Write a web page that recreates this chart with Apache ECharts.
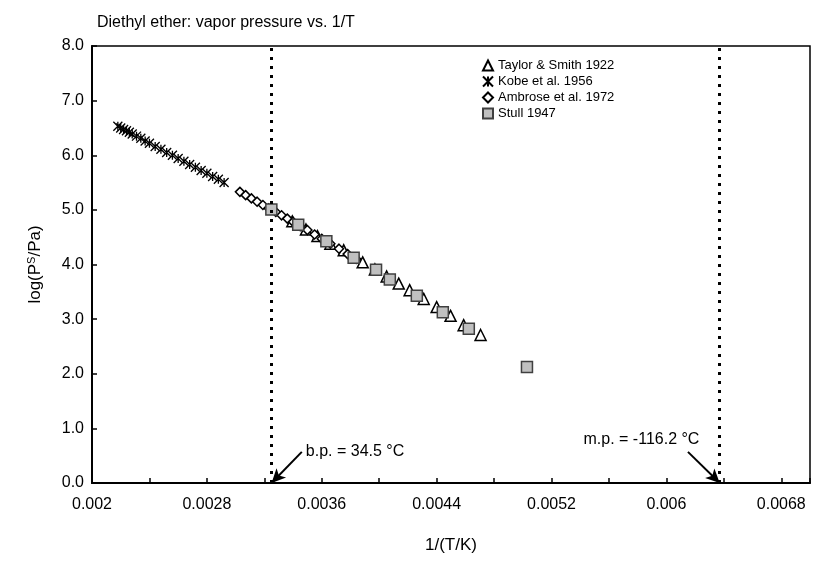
<!DOCTYPE html>
<html>
<head>
<meta charset="utf-8">
<script src="https://cdn.jsdelivr.net/npm/echarts@6/dist/echarts.min.js"></script>
<style>
  html, body { margin: 0; padding: 0; background: #fff; }
  #main { width: 818px; height: 565px; }
</style>
</head>
<body>
<div id="main"></div>
<script>
// values: x = 1/(T/K), y = log10(P/Pa)
var taylorX = [0.003395, 0.00349, 0.00357, 0.00366, 0.003753, 0.003885, 0.00397, 0.004052,
  0.004136, 0.004212, 0.00431, 0.0044, 0.004497, 0.004588, 0.004706];
var taylorY = [4.79, 4.64, 4.52, 4.38, 4.26, 4.04, 3.91, 3.78, 3.65, 3.53, 3.37, 3.22, 3.06, 2.89, 2.71];

var kobeX = [0.00218, 0.0022, 0.00222, 0.00224, 0.00226, 0.00228, 0.00231, 0.00234, 0.00237, 0.0024,
  0.00244, 0.00248, 0.00252, 0.00256, 0.0026, 0.00264, 0.00268, 0.00272, 0.00276, 0.0028,
  0.00284, 0.00288, 0.00292];
var kobeY = [6.53, 6.5, 6.47, 6.45, 6.42, 6.39, 6.35, 6.31, 6.26, 6.22, 6.16, 6.11, 6.05, 6.0,
  5.94, 5.89, 5.83, 5.78, 5.72, 5.67, 5.61, 5.56, 5.5];

var ambroseX = [0.00303, 0.00307, 0.00311, 0.00315, 0.00319, 0.00323, 0.00328, 0.00332, 0.00336,
  0.0034, 0.00345, 0.0035, 0.00355, 0.0036, 0.00366, 0.00372, 0.00378, 0.00384];
var ambroseY = [5.33, 5.27, 5.21, 5.15, 5.09, 5.03, 4.96, 4.9, 4.84, 4.78, 4.7, 4.63, 4.55, 4.47,
  4.38, 4.29, 4.19, 4.1];

var stullX = [0.003249, 0.003436, 0.003632, 0.003822, 0.003978, 0.004074, 0.004262, 0.004443,
  0.004624, 0.005029];
var stullY = [5.006, 4.727, 4.426, 4.125, 3.903, 3.727, 3.426, 3.125, 2.824, 2.125];

// boiling and melting point, 1/(T/K)
var bpX = 1 / 307.65;
var mpX = 1 / 156.95;

function zip(xs, ys) {
  return xs.map(function (x, i) { return [x, ys[i]]; });
}

var font = 'Liberation Sans, Arial, sans-serif';
var myChart = echarts.init(document.getElementById('main'));

var dotted = { type: [3, 6], width: 3, color: '#000' };
var arrowLine = { type: 'solid', width: 2, color: '#000' };

var option = {
  animation: false,
  textStyle: { fontFamily: font, color: '#000' },
  title: {
    text: 'Diethyl ether: vapor pressure vs. 1/T',
    left: 92,
    top: 10,
    textStyle: { fontFamily: font, fontSize: 16, fontWeight: 'normal', color: '#000' }
  },
  legend: {
    orient: 'vertical',
    left: 477,
    top: 54,
    itemWidth: 10,
    itemHeight: 10,
    itemGap: 3,
    itemTextGap: 5,
    textStyle: { fontFamily: font, fontSize: 13, color: '#000' },
    data: ['Taylor & Smith 1922', 'Kobe et al. 1956', 'Ambrose et al. 1972', 'Stull 1947']
  },
  grid: {
    left: 92,
    right: 8,
    top: 46,
    bottom: 82,
    show: true,
    borderColor: '#000',
    borderWidth: 1.5
  },
  xAxis: {
    type: 'value',
    min: 0.002,
    max: 0.007,
    interval: 0.0004,
    name: '1/(T/K)',
    nameLocation: 'middle',
    nameGap: 54,
    nameTextStyle: { fontFamily: font, fontSize: 17, color: '#000' },
    axisLine: { lineStyle: { color: '#000', width: 2 } },
    axisTick: { inside: true, length: 5, lineStyle: { color: '#000', width: 1.5 } },
    axisLabel: {
      margin: 14,
      fontSize: 16,
      color: '#000',
      fontFamily: font,
      formatter: function (v) {
        var k = Math.round(v * 10000);
        return k % 8 === 4 ? String(+v.toFixed(4)) : '';
      }
    },
    splitLine: { show: false }
  },
  yAxis: {
    type: 'value',
    min: 0,
    max: 8,
    interval: 1,
    name: 'log(P{sup|S}/Pa)',
    nameLocation: 'middle',
    nameGap: 47,
    nameTextStyle: {
      fontFamily: font, fontSize: 17, color: '#000',
      rich: { sup: { fontFamily: font, fontSize: 11, verticalAlign: 'bottom', padding: [0, 0, 8, 0] } }
    },
    axisLine: { lineStyle: { color: '#000', width: 2 } },
    axisTick: { inside: true, length: 5, lineStyle: { color: '#000', width: 1.5 } },
    axisLabel: {
      margin: 8,
      fontSize: 16,
      color: '#000',
      fontFamily: font,
      formatter: function (v) { return v.toFixed(1); }
    },
    splitLine: { show: false }
  },
  series: [
    {
      // dotted lines, arrows and their labels
      name: 'marks',
      type: 'scatter',
      data: [],
      silent: true,
      markLine: {
        silent: true,
        symbol: ['none', 'none'],
        label: { show: false },
        data: [
          [
            { coord: [bpX, 0], lineStyle: dotted },
            { coord: [bpX, 8] }
          ],
          [
            { coord: [mpX, 0], lineStyle: dotted },
            { coord: [mpX, 8] }
          ],
          [
            { coord: [0.003461, 0.57], symbol: 'none', lineStyle: arrowLine },
            { coord: [bpX, 0], symbol: 'arrow', symbolSize: [10, 14] }
          ],
          [
            { coord: [0.00615, 0.57], symbol: 'none', lineStyle: arrowLine },
            { coord: [mpX, 0], symbol: 'arrow', symbolSize: [10, 14] }
          ]
        ]
      },
      markPoint: {
        silent: true,
        symbol: 'circle',
        symbolSize: 0,
        data: [
          {
            coord: [0.003475, 0.58],
            label: { show: true, position: 'right', distance: 2, formatter: 'b.p. = 34.5 °C',
              fontFamily: font, fontSize: 16, color: '#000' }
          },
          {
            coord: [0.00623, 0.79],
            label: { show: true, position: 'left', distance: 0, formatter: 'm.p. = -116.2 °C',
              fontFamily: font, fontSize: 16, color: '#000' }
          }
        ]
      }
    },
    {
      name: 'Taylor & Smith 1922',
      type: 'scatter',
      symbol: 'triangle',
      symbolSize: 11,
      itemStyle: { color: '#fff', borderColor: '#000', borderWidth: 1.5, opacity: 1 },
      data: zip(taylorX, taylorY)
    },
    {
      name: 'Kobe et al. 1956',
      type: 'scatter',
      symbol: 'path://M0,0L10,10M10,0L0,10M5,0L5,10',
      symbolSize: 9,
      itemStyle: { color: '#000', borderColor: '#000', borderWidth: 1.3, opacity: 1 },
      data: zip(kobeX, kobeY)
    },
    {
      name: 'Ambrose et al. 1972',
      type: 'scatter',
      symbol: 'diamond',
      symbolSize: 9,
      itemStyle: { color: '#fff', borderColor: '#000', borderWidth: 1.5, opacity: 1 },
      data: zip(ambroseX, ambroseY)
    },
    {
      name: 'Stull 1947',
      type: 'scatter',
      symbol: 'rect',
      symbolSize: 11,
      itemStyle: { color: '#c0c0c0', borderColor: '#404040', borderWidth: 1.5, opacity: 1 },
      data: zip(stullX, stullY)
    }
  ]
};

option && myChart.setOption(option);
</script>
</body>
</html>
